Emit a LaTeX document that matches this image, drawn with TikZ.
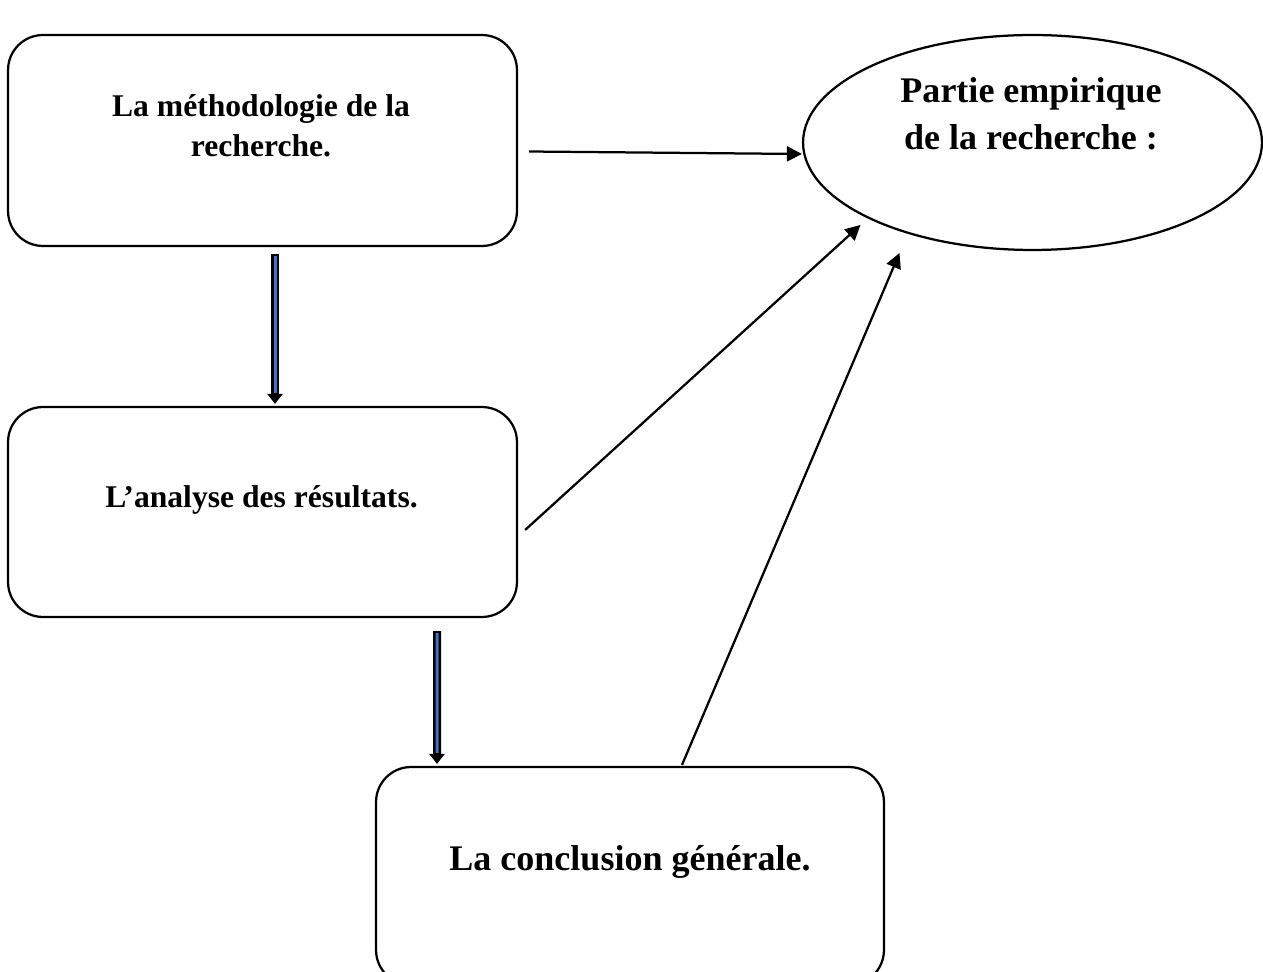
\documentclass[tikz,border=0pt]{standalone}
\usepackage{fontspec}
\setmainfont{Liberation Serif}
\usetikzlibrary{arrows.meta,calc,shapes.geometric}
\definecolor{arrblue}{HTML}{4472C4}
\tikzset{
  box/.style={draw=black, line width=0.045cm, rounded corners=0.7cm, minimum width=10.18cm, inner sep=0pt},
  lbl/.style={align=center, inner sep=0pt, font=\bfseries},
  conn/.style={draw=black, line width=0.045cm, -{Triangle[length=0.3cm,width=0.3cm]}},
  fatshaft/.style={draw=black, line width=0.16cm, -{Triangle[length=0.2cm,width=0.3cm]}},
  fatcore/.style={draw=arrblue, line width=0.06cm, shorten >=0.22cm, shorten <=0.04cm}
}
\begin{document}
\begin{tikzpicture}[x=0.02cm, y=-0.02cm]
\useasboundingbox (0,0) rectangle (1263,972);
% boxes
\node[box, minimum height=4.22cm] (b1) at (262.5,140.5) {};
\node[box, minimum height=4.20cm] (b2) at (262.5,512) {};
\node[box, minimum width=10.16cm, minimum height=4.36cm] (b3) at (630,876) {};
\node[draw=black, line width=0.045cm, ellipse, minimum width=9.18cm, minimum height=4.3cm, inner sep=0pt] (e) at (1032.5,142.5) {};
% texts
\node[lbl, font=\bfseries\fontsize{18}{22.6}\selectfont] (t1) at (261,126) {La méthodologie de la\\recherche.};
\node[lbl, font=\bfseries\fontsize{18}{20}\selectfont] (t2) at (261.5,500) {L’analyse des résultats.};
\node[lbl, font=\bfseries\fontsize{20.5}{26.6}\selectfont] (t3) at (630,862) {La conclusion générale.};
\node[lbl, font=\bfseries\fontsize{20.5}{26.6}\selectfont] (te) at (1031,114) {Partie empirique\\de la recherche :};
% connectors to ellipse
\coordinate (s1) at ($(b1.east)+(11,11)$);
\coordinate (s2) at ($(b2.east)+(7,18)$);
\coordinate (s3) at ($(b3.north)+(52,-1)$);
\coordinate (e1) at ($(e.west)+(0,11.5)$);
\coordinate (e2) at ($(e.center)+(-172,82.5)$);
\coordinate (e3) at ($(e.center)+(-133,110.5)$);
\draw[conn] (s1) -- (e1);
\draw[conn] (s2) -- (e2);
\draw[conn] (s3) -- (e3);
% fat blue arrows
\coordinate (d1s) at ($(b1.south)+(12.5,7)$);
\coordinate (d1e) at ($(b2.north)+(12.5,-2)$);
\coordinate (d2s) at ($(b2.south)+(174.5,13)$);
\coordinate (d2e) at ($(b3.north)+(-193,-2)$);
\draw[fatshaft] (d1s) -- (d1e);
\draw[fatcore] (d1s) -- (d1e);
\draw[fatshaft] (d2s) -- (d2e);
\draw[fatcore] (d2s) -- (d2e);
\end{tikzpicture}
\end{document}
